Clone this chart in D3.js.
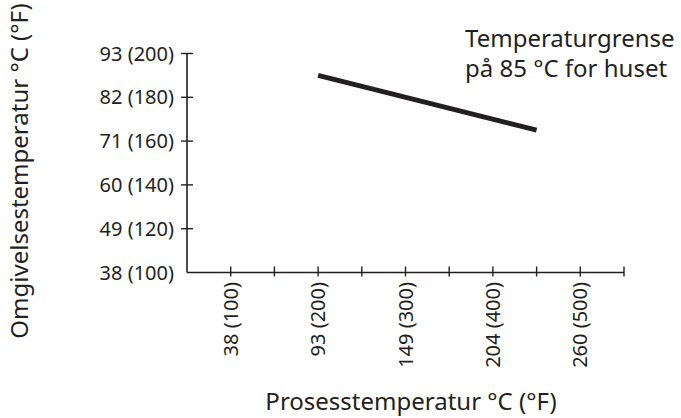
<!DOCTYPE html>
<html>
<head>
<meta charset="utf-8">
<script src="https://cdn.jsdelivr.net/npm/d3@7"></script>
<style>
  body { margin: 0; background: #fff; }
  text { font-family: "Noto Sans", "Open Sans", sans-serif; fill: #231f20; }
</style>
</head>
<body>
<svg id="chart" width="681" height="418"></svg>
<script>
// process temperature (°F) on x, ambient temperature (°F) on y
var xTicks = [50, 100, 150, 200, 250, 300, 350, 400, 450, 500, 550];
var xLabels = {100: "38 (100)", 200: "93 (200)", 300: "149 (300)", 400: "204 (400)", 500: "260 (500)"};
var yTicks = [100, 120, 140, 160, 180, 200];
var yLabels = ["38 (100)", "49 (120)", "60 (140)", "71 (160)", "82 (180)", "93 (200)"];
var limitX = [200, 450];
var limitY = [190, 165];

var svg = d3.select("#chart");
var ink = "#231f20";

var x = d3.scaleLinear().domain([50, 550]).range([187, 624]);
var y = d3.scaleLinear().domain([100, 200]).range([272.5, 53.5]);

// axes lines
svg.append("line")
   .attr("x1", x(50)).attr("x2", x(550))
   .attr("y1", y(100)).attr("y2", y(100))
   .attr("stroke", ink).attr("stroke-width", 1.6);
svg.append("line")
   .attr("x1", x(50)).attr("x2", x(50))
   .attr("y1", y(100)).attr("y2", y(200))
   .attr("stroke", ink).attr("stroke-width", 1.6);

// x ticks (cross the axis)
svg.selectAll(".xt").data(xTicks.slice(1))
   .enter().append("line")
   .attr("x1", function(d){ return x(d); }).attr("x2", function(d){ return x(d); })
   .attr("y1", y(100) - 6).attr("y2", y(100) + 4)
   .attr("stroke", ink).attr("stroke-width", 1.4);

svg.selectAll(".xl").data(xTicks.filter(function(d){ return xLabels[d]; }))
   .enter().append("text")
   .attr("transform", function(d){ return "translate(" + (x(d) + 7) + "," + 282 + ") rotate(-90)"; })
   .attr("text-anchor", "end")
   .attr("font-size", 20)
   .text(function(d){ return xLabels[d]; });

// y ticks
svg.selectAll(".yt").data(yTicks.slice(1))
   .enter().append("line")
   .attr("x1", x(50) - 6).attr("x2", x(50) + 6)
   .attr("y1", function(d){ return y(d); }).attr("y2", function(d){ return y(d); })
   .attr("stroke", ink).attr("stroke-width", 1.4);

svg.selectAll(".yl").data(yTicks)
   .enter().append("text")
   .attr("x", 174)
   .attr("y", function(d){ return y(d) + 7; })
   .attr("text-anchor", "end")
   .attr("font-size", 20)
   .text(function(d, i){ return yLabels[i]; });

// limit line
svg.append("line")
   .attr("x1", x(limitX[0])).attr("y1", y(limitY[0]))
   .attr("x2", x(limitX[1])).attr("y2", y(limitY[1]))
   .attr("stroke", ink).attr("stroke-width", 5);

// annotation
var note = svg.append("text").attr("font-size", 24).attr("x", 465);
note.append("tspan").attr("x", 465).attr("y", 47).text("Temperaturgrense");
note.append("tspan").attr("x", 465).attr("y", 77).text("på 85 °C for huset");

// axis titles
svg.append("text")
   .attr("x", 411).attr("y", 410)
   .attr("text-anchor", "middle")
   .attr("font-size", 24)
   .text("Prosesstemperatur °C (°F)");

svg.append("text")
   .attr("transform", "translate(28,171) rotate(-90)")
   .attr("text-anchor", "middle")
   .attr("font-size", 24)
   .text("Omgivelsestemperatur °C (°F)");
</script>
</body>
</html>
